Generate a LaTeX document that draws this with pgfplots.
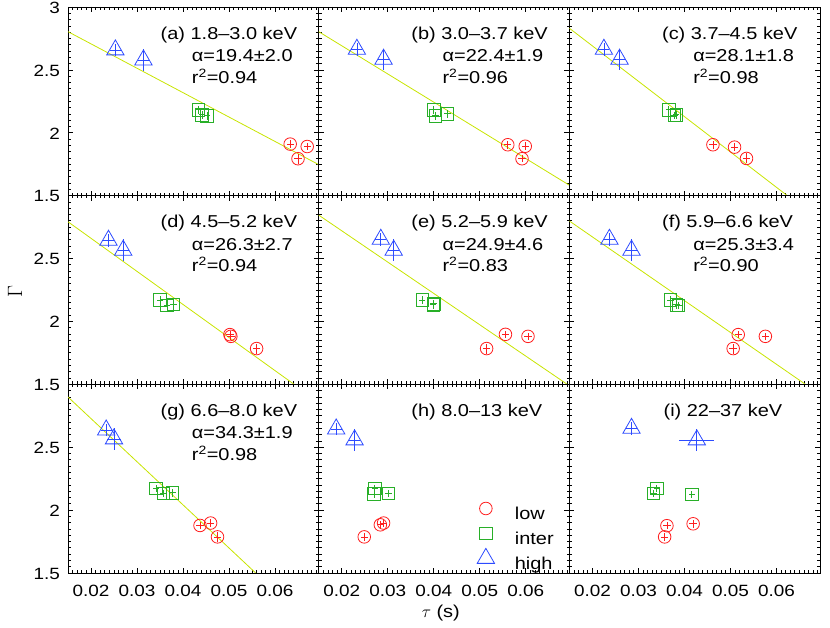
\documentclass[border=0pt]{standalone}
\usepackage{fontspec}
\setmainfont{Liberation Sans}[FakeStretch=1.16]
\usepackage{pgfplots}
\pgfplotsset{compat=1.18}
\definecolor{myred}{RGB}{255,30,30}
\definecolor{mygreen}{RGB}{40,175,40}
\definecolor{myblue}{RGB}{45,75,255}
\definecolor{myline}{RGB}{200,228,0}
\newcommand\pfont{\fontsize{17.2}{20}\selectfont}
\newcommand\tfont{\fontsize{16.3}{19}\selectfont}
\pgfplotsset{
  panel/.style={scale only axis, width=250.7pt, height=188.7pt, anchor=south west,
    xmin=0.015, xmax=0.0695, ymin=1.5, ymax=3,
    scaled x ticks=false, scaled y ticks=false,
    xtick={0.02,0.03,0.04,0.05,0.06}, xticklabels={},
    ytick={1.5,2,2.5,3}, yticklabels={},
    minor xtick={0.015,0.016,...,0.069},
    minor ytick={1.5,1.55,...,3},
    tick align=inside, major tick length=5pt, minor tick length=2.8pt,
    axis line style={line width=0.8pt},
    every tick/.style={black, line width=0.7pt},
    xtick pos=both, ytick pos=both,
    xticklabel style={font=\tfont, anchor=north, inner sep=0pt, yshift=-12pt},
    yticklabel style={font=\tfont, anchor=east, inner sep=0pt, xshift=-8pt, yshift=-0.7pt},
  },
  cC/.style={only marks, mark=o, myred, mark size=6.3pt, line width=0.8pt,
    error bars/.cd, x dir=both, x explicit, y dir=both, y explicit, error mark=none,
    error bar style={line width=0.7pt}},
  cS/.style={only marks, mark=square, mygreen, mark size=6.2pt, line width=0.8pt,
    error bars/.cd, x dir=both, x explicit, y dir=both, y explicit, error mark=none,
    error bar style={line width=0.7pt}},
  cT/.style={only marks, mark=triangle, myblue, mark size=10pt, line width=0.8pt,
    error bars/.cd, x dir=both, x explicit, y dir=both, y explicit, error mark=none,
    error bar style={line width=0.7pt}},
  fit/.style={myline, line width=0.8pt, no marks},
}
\newcommand\lab[3]{%
  \node[font=\pfont, anchor=base west, inner sep=0pt, xshift=92.5pt, yshift=-32.3pt] at (rel axis cs:0,1) {#1};
  \node[font=\pfont, anchor=base west, inner sep=0pt, xshift=123.7pt, yshift=-54.7pt] at (rel axis cs:0,1) {α=#2};
  \node[font=\pfont, anchor=base west, inner sep=0pt, xshift=123.7pt, yshift=-76.3pt] at (rel axis cs:0,1) {r\textsuperscript{2}=#3};
}
\begin{document}
\begin{tikzpicture}[font=\pfont]
\useasboundingbox (0pt,0pt) rectangle (830pt,628pt);
% ---------- (a)
\begin{axis}[panel, at={(68pt,432.3pt)}, yticklabels={1.5,2,2.5,3}]
\addplot[fit] coordinates {(0.015,2.804) (0.0695,1.747)};
\addplot[cC] table[x error=ex, y error=ey] {
x y ex ey
0.0633 1.910 0.0008 0.03
0.0650 1.794 0.0008 0.04
0.0670 1.891 0.0008 0.03
};
\addplot[cS] table[x error=ex, y error=ey] {
x y ex ey
0.0434 2.183 0.0007 0.03
0.0441 2.143 0.0007 0.03
0.0452 2.135 0.0007 0.03
};
\addplot[cT] table[x error=ex, y error=ey] {
x y ex ey
0.0253 2.659 0.0012 0.05
0.0314 2.579 0.0012 0.085
};
\lab{(a) 1.8–3.0 keV}{19.4±2.0}{0.94}
\end{axis}
% ---------- (b)
\begin{axis}[panel, at={(318.7pt,432.3pt)}]
\addplot[fit] coordinates {(0.015,2.804) (0.0695,1.583)};
\addplot[cC] table[x error=ex, y error=ey] {
x y ex ey
0.0561 1.905 0.0008 0.03
0.0599 1.893 0.0008 0.03
0.0592 1.794 0.0008 0.03
};
\addplot[cS] table[x error=ex, y error=ey] {
x y ex ey
0.0400 2.183 0.0007 0.03
0.0404 2.135 0.0007 0.03
0.0430 2.151 0.0007 0.03
};
\addplot[cT] table[x error=ex, y error=ey] {
x y ex ey
0.0233 2.664 0.0012 0.05
0.0291 2.585 0.0012 0.085
};
\lab{(b) 3.0–3.7 keV}{22.4±1.9}{0.96}
\end{axis}
% ---------- (c)
\begin{axis}[panel, at={(569.4pt,432.3pt)}]
\addplot[fit] coordinates {(0.015,2.831) (0.0695,1.300)};
\addplot[cC] table[x error=ex, y error=ey] {
x y ex ey
0.0462 1.905 0.0008 0.03
0.0509 1.886 0.0008 0.03
0.0535 1.796 0.0008 0.04
};
\addplot[cS] table[x error=ex, y error=ey] {
x y ex ey
0.0366 2.183 0.0007 0.03
0.0378 2.137 0.0007 0.03
0.0382 2.143 0.0007 0.03
};
\addplot[cT] table[x error=ex, y error=ey] {
x y ex ey
0.0225 2.664 0.0012 0.05
0.0259 2.585 0.0012 0.085
};
\lab{(c) 3.7–4.5 keV}{28.1±1.8}{0.98}
\end{axis}
% ---------- (d)
\begin{axis}[panel, at={(68pt,243.7pt)}, yticklabels={1.5,2,2.5,{}}]
\addplot[fit] coordinates {(0.015,2.792) (0.0695,1.359)};
\addplot[cC] table[x error=ex, y error=ey] {
x y ex ey
0.0502 1.895 0.0008 0.03
0.0504 1.881 0.0008 0.03
0.0560 1.784 0.0008 0.04
};
\addplot[cS] table[x error=ex, y error=ey] {
x y ex ey
0.0350 2.171 0.0007 0.03
0.0365 2.126 0.0007 0.03
0.0379 2.134 0.0007 0.03
};
\addplot[cT] table[x error=ex, y error=ey] {
x y ex ey
0.0238 2.645 0.0012 0.05
0.0270 2.566 0.0012 0.085
};
\lab{(d) 4.5–5.2 keV}{26.3±2.7}{0.94}
\end{axis}
% ---------- (e)
\begin{axis}[panel, at={(318.7pt,243.7pt)}]
\addplot[fit] coordinates {(0.015,2.845) (0.0695,1.488)};
\addplot[cC] table[x error=ex, y error=ey] {
x y ex ey
0.0515 1.784 0.0008 0.04
0.0556 1.897 0.0008 0.03
0.0605 1.881 0.0008 0.03
};
\addplot[cS] table[x error=ex, y error=ey] {
x y ex ey
0.0375 2.171 0.0007 0.03
0.0399 2.132 0.0007 0.03
0.0400 2.140 0.0007 0.03
};
\addplot[cT] table[x error=ex, y error=ey] {
x y ex ey
0.0285 2.653 0.0012 0.05
0.0313 2.566 0.0012 0.085
};
\lab{(e) 5.2–5.9 keV}{24.9±4.6}{0.83}
\end{axis}
% ---------- (f)
\begin{axis}[panel, at={(569.4pt,243.7pt)}]
\addplot[fit] coordinates {(0.015,2.798) (0.0695,1.419)};
\addplot[cC] table[x error=ex, y error=ey] {
x y ex ey
0.0517 1.895 0.0008 0.03
0.0506 1.784 0.0008 0.04
0.0576 1.881 0.0008 0.03
};
\addplot[cS] table[x error=ex, y error=ey] {
x y ex ey
0.0370 2.171 0.0007 0.03
0.0383 2.132 0.0007 0.03
0.0387 2.126 0.0007 0.03
};
\addplot[cT] table[x error=ex, y error=ey] {
x y ex ey
0.0237 2.653 0.0012 0.05
0.0285 2.566 0.0012 0.085
};
\lab{(f) 5.9–6.6 keV}{25.3±3.4}{0.90}
\end{axis}
% ---------- (g)
\begin{axis}[panel, at={(68pt,55pt)}, yticklabels={1.5,2,2.5,{}},
  xticklabels={0.02,0.03,0.04,0.05,0.06}]
\addplot[fit] coordinates {(0.015,2.899) (0.0695,1.030)};
\addplot[cC] table[x error=ex, y error=ey] {
x y ex ey
0.0437 1.878 0.0008 0.03
0.0460 1.897 0.0008 0.03
0.0475 1.787 0.0008 0.04
};
\addplot[cS] table[x error=ex, y error=ey] {
x y ex ey
0.0341 2.172 0.0007 0.03
0.0357 2.133 0.0007 0.03
0.0377 2.138 0.0007 0.03
};
\addplot[cT] table[x error=ex, y error=ey] {
x y ex ey
0.0233 2.637 0.0012 0.05
0.0250 2.566 0.0016 0.085
};
\lab{(g) 6.6–8.0 keV}{34.3±1.9}{0.98}
\end{axis}
% ---------- (h)
\begin{axis}[panel, at={(318.7pt,55pt)},
  xticklabels={0.02,0.03,0.04,0.05,0.06},
  legend image code/.code={\path[draw=none, fill=none] (0pt,-4pt) rectangle (36pt,15pt); \draw[#1] plot coordinates {(7pt,5.5pt)};},
  legend style={draw=none, fill=none, inner sep=0pt, row sep=2.7pt, column sep=0pt,
    nodes={inner sep=0pt, font=\pfont},
    at={(axis cs:0.015,1.5)}, anchor=north west, xshift=158.3pt, yshift=74.2pt},
  legend cell align=left]
\addplot[cC] table[x error=ex, y error=ey] {
x y ex ey
0.0249 1.787 0.0008 0.03
0.0284 1.883 0.0008 0.03
0.0291 1.897 0.0008 0.03
};
\addplot[cS] table[x error=ex, y error=ey] {
x y ex ey
0.0272 2.172 0.0007 0.03
0.0270 2.128 0.0007 0.03
0.0302 2.133 0.0007 0.03
};
\addplot[cT] table[x error=ex, y error=ey] {
x y ex ey
0.0188 2.645 0.0012 0.05
0.0228 2.558 0.0012 0.085
};
\legend{low,inter,high}
\node[font=\pfont, anchor=base west, inner sep=0pt, xshift=92.5pt, yshift=-32.3pt] at (rel axis cs:0,1) {(h) 8.0–13 keV};
\end{axis}
% ---------- (i)
\begin{axis}[panel, at={(569.4pt,55pt)},
  xticklabels={0.02,0.03,0.04,0.05,0.06}]
\addplot[cC] table[x error=ex, y error=ey] {
x y ex ey
0.0362 1.876 0.0008 0.03
0.0357 1.787 0.0008 0.03
0.0419 1.891 0.0008 0.03
};
\addplot[cS] table[x error=ex, y error=ey] {
x y ex ey
0.0340 2.172 0.0007 0.03
0.0333 2.133 0.0007 0.03
0.0416 2.125 0.0007 0.03
};
\addplot[cT] table[x error=ex, y error=ey] {
x y ex ey
0.0285 2.650 0.0012 0.05
0.0427 2.558 0.0038 0.085
};
\node[font=\pfont, anchor=base west, inner sep=0pt, xshift=94pt, yshift=-32.3pt] at (rel axis cs:0,1) {(i) 22–37 keV};
\end{axis}
\node[rotate=90] at (15pt,336.3pt) {\fontsize{20}{24}\selectfont$\Gamma$};
\node[anchor=base] at (440.8pt,10.5pt) {$\tau$ (s)};
\end{tikzpicture}
\end{document}
